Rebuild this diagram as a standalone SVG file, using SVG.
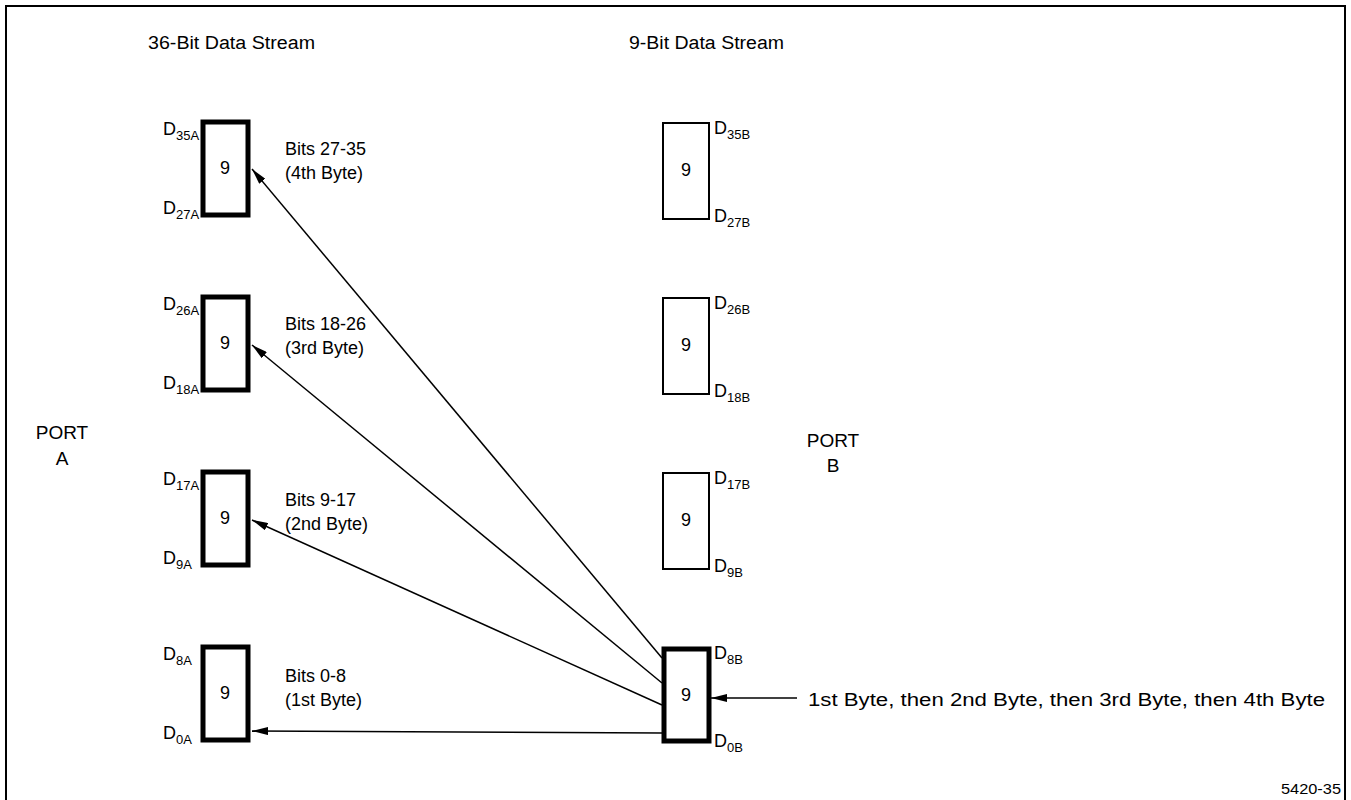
<svg xmlns="http://www.w3.org/2000/svg" width="1351" height="800" viewBox="0 0 1351 800">
<style>
text{font-family:"Liberation Sans",Arial,sans-serif;font-size:18px;fill:#000}
.sub{font-size:13px}
.thick{fill:#fff;stroke:#000;stroke-width:5}
.thin{fill:#fff;stroke:#000;stroke-width:2}
.c{text-anchor:middle}
.conn line{stroke:#000;stroke-width:1.5}
</style>
<defs>
<marker id="ah" viewBox="0 0 16 8" refX="16" refY="4" markerWidth="16" markerHeight="8" markerUnits="userSpaceOnUse" orient="auto">
<path d="M0,0 L16,4 L0,8 Z" fill="#000"/>
</marker>
</defs>
<rect width="1351" height="800" fill="#fff"/>
<path d="M6,800 V6 H1345 V800" fill="none" stroke="#000" stroke-width="2"/>
<text x="148" y="49" textLength="167" lengthAdjust="spacingAndGlyphs">36-Bit Data Stream</text>
<text x="629" y="49" textLength="155" lengthAdjust="spacingAndGlyphs">9-Bit Data Stream</text>
<text class="c" x="62" y="439" style="font-size:19px">PORT</text>
<text class="c" x="62" y="465" style="font-size:19px">A</text>
<text class="c" x="833" y="447" style="font-size:19px">PORT</text>
<text class="c" x="833" y="472" style="font-size:19px">B</text>

<g id="a4"><rect class="thick" x="203" y="122" width="45" height="93"/><text class="c" x="225" y="174">9</text>
<text x="163" y="135">D<tspan class="sub" dy="5">35A</tspan></text><text x="163" y="214">D<tspan class="sub" dy="5">27A</tspan></text></g>
<g id="a3"><rect class="thick" x="203" y="297" width="45" height="93"/><text class="c" x="225" y="349">9</text>
<text x="163" y="310">D<tspan class="sub" dy="5">26A</tspan></text><text x="163" y="389">D<tspan class="sub" dy="5">18A</tspan></text></g>
<g id="a2"><rect class="thick" x="203" y="472" width="45" height="93"/><text class="c" x="225" y="524">9</text>
<text x="163" y="485">D<tspan class="sub" dy="5">17A</tspan></text><text x="163" y="564">D<tspan class="sub" dy="5">9A</tspan></text></g>
<g id="a1"><rect class="thick" x="203" y="647" width="45" height="93"/><text class="c" x="225" y="699">9</text>
<text x="163" y="660">D<tspan class="sub" dy="5">8A</tspan></text><text x="163" y="739">D<tspan class="sub" dy="5">0A</tspan></text></g>

<g id="b4"><rect class="thin" x="663" y="123" width="46" height="96"/><text class="c" x="686" y="176">9</text>
<text x="714" y="134">D<tspan class="sub" dy="5">35B</tspan></text><text x="714" y="222">D<tspan class="sub" dy="5">27B</tspan></text></g>
<g id="b3"><rect class="thin" x="663" y="298" width="46" height="96"/><text class="c" x="686" y="351">9</text>
<text x="714" y="309">D<tspan class="sub" dy="5">26B</tspan></text><text x="714" y="397">D<tspan class="sub" dy="5">18B</tspan></text></g>
<g id="b2"><rect class="thin" x="663" y="473" width="46" height="96"/><text class="c" x="686" y="526">9</text>
<text x="714" y="484">D<tspan class="sub" dy="5">17B</tspan></text><text x="714" y="572">D<tspan class="sub" dy="5">9B</tspan></text></g>
<g id="b1"><rect class="thick" x="664" y="649" width="45" height="92"/><text class="c" x="686" y="701">9</text>
<text x="714" y="659">D<tspan class="sub" dy="5">8B</tspan></text><text x="714" y="747">D<tspan class="sub" dy="5">0B</tspan></text></g>

<g id="labels">
<text x="285" y="155">Bits 27-35</text><text x="285" y="179">(4th Byte)</text>
<text x="285" y="330">Bits 18-26</text><text x="285" y="354">(3rd Byte)</text>
<text x="285" y="506">Bits 9-17</text><text x="285" y="530">(2nd Byte)</text>
<text x="285" y="682">Bits 0-8</text><text x="285" y="706">(1st Byte)</text>
<text x="808" y="706" textLength="517" lengthAdjust="spacingAndGlyphs">1st Byte, then 2nd Byte, then 3rd Byte, then 4th Byte</text>
<text x="1341" y="794" style="font-size:15px;text-anchor:end" textLength="60" lengthAdjust="spacingAndGlyphs">5420-35</text>
</g>

<g class="conn" id="connectors">
<line x1="662" y1="658" x2="252" y2="169" marker-end="url(#ah)"/>
<line x1="662" y1="683" x2="252" y2="345" marker-end="url(#ah)"/>
<line x1="662" y1="705" x2="252" y2="520" marker-end="url(#ah)"/>
<line x1="662" y1="733" x2="252" y2="731" marker-end="url(#ah)"/>
<line x1="797" y1="698" x2="711" y2="698" marker-end="url(#ah)"/>
</g>
</svg>
